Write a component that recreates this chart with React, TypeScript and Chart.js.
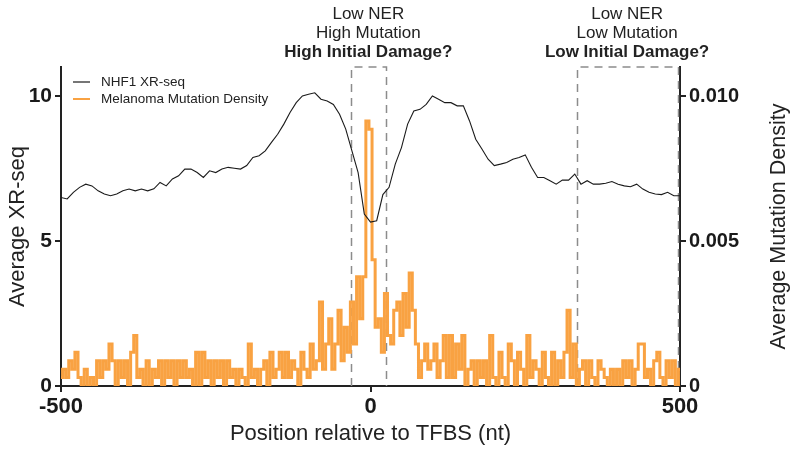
import React, { useEffect, useRef } from 'react';
import { Chart, registerables } from 'chart.js';

Chart.register(...registerables);

const FONT = '"Liberation Sans", Arial, Helvetica, sans-serif';

// Positions (nt) relative to TFBS
function range(from: number, to: number, step: number): number[] {
  const out: number[] = [];
  for (let v = from; v <= to; v += step) out.push(v);
  return out;
}
const xrPositions = range(-500, 500, 10);
const mutPositions = range(-500, 500, 5);

// NHF1 XR-seq average (left axis), every 10 nt
const xrSeq = [
  6.5, 6.45, 6.68, 6.85, 6.96, 6.9, 6.73, 6.62, 6.56, 6.62,
  6.73, 6.79, 6.73, 6.79, 6.73, 6.8, 7.02, 6.9, 7.14, 7.25,
  7.48, 7.48, 7.36, 7.19, 7.42, 7.36, 7.48, 7.54, 7.51, 7.48,
  7.6, 7.88, 7.94, 8.11, 8.4, 8.68, 9.03, 9.43, 9.77, 10.0,
  10.06, 10.11, 9.89, 9.83, 9.71, 9.37, 8.86, 8.11, 7.36, 5.93,
  5.65, 5.7, 6.6, 6.85, 7.65, 8.22, 9.03, 9.48, 9.54, 9.71,
  10.0, 9.89, 9.77, 9.77, 9.66, 9.66, 9.14, 8.51, 8.17, 7.82,
  7.6, 7.65, 7.71, 7.82, 7.88, 7.97, 7.54, 7.19, 7.19, 7.08,
  6.96, 7.1, 7.1, 7.31, 6.96, 7.08, 6.96, 6.96, 6.99, 7.05,
  6.96, 6.9, 6.87, 6.96, 6.79, 6.68, 6.62, 6.6, 6.68, 6.56,
  6.56,
];

// Melanoma mutation density (right axis), every 5 nt
const mutationDensity = [
  0.00029, 0.00058, 0.00029, 0.00087, 0.00058, 0.00116, 0.00029, 0, 0.00058, 0,
  0.00029, 0, 0.00087, 0.00029, 0.00087, 0.00058, 0.00145, 0.00087, 0, 0.00087,
  0.00029, 0.00087, 0, 0.00116, 0.00174, 0.00029, 0.00058, 0, 0.00087, 0,
  0.00058, 0.00029, 0.00087, 0, 0.00087, 0.00029, 0.00087, 0, 0.00087, 0.00029,
  0.00087, 0.00029, 0.00058, 0, 0.00116, 0, 0.00116, 0.00029, 0.00087, 0,
  0.00087, 0.00029, 0.00087, 0, 0.00087, 0.00029, 0.00058, 0, 0.00058, 0.00029,
  0, 0.00145, 0.00029, 0.00058, 0, 0.00058, 0.00087, 0, 0.00116, 0.00029,
  0.00058, 0.00116, 0.00029, 0.00116, 0.00029, 0.00087, 0.00058, 0, 0.00116, 0.00058,
  0.00029, 0.00145, 0.00058, 0.00087, 0.0029, 0.00058, 0.00145, 0.00232, 0.00058, 0.00145,
  0.00261, 0.00087, 0.00203, 0.00116, 0.0029, 0.00145, 0.00377, 0.00232, 0.00377, 0.00914,
  0.00885, 0.00435, 0.00203, 0.00232, 0.00116, 0.00319, 0.00174, 0.00145, 0.00261, 0.0029,
  0.00174, 0.00319, 0.00203, 0.0039, 0.00261, 0.00145, 0.00029, 0.00087, 0.00145, 0.00058,
  0.00087, 0.00145, 0.00029, 0.00087, 0.00174, 0.00029, 0.00174, 0.00029, 0.00145, 0.00058,
  0.00174, 0, 0.00058, 0.00087, 0, 0.00087, 0.00029, 0.00087, 0, 0.00174,
  0.00029, 0, 0.00116, 0.00029, 0, 0.00145, 0.00087, 0, 0.00116, 0.00058,
  0, 0.00174, 0.00029, 0.00087, 0.00058, 0, 0.00116, 0.00029, 0, 0.00116,
  0, 0.00087, 0.00029, 0.00116, 0.00261, 0.00029, 0.00145, 0, 0.00058, 0.00087,
  0, 0.00087, 0.00029, 0, 0.00087, 0.00058, 0.00029, 0, 0.00058, 0,
  0.00058, 0, 0.00087, 0.00029, 0.00087, 0, 0.00058, 0.00145, 0.00145, 0.00029,
  0.00058, 0, 0.00087, 0.00116, 0.00029, 0, 0.00087, 0.00029, 0.00087, 0,
  0.00058,
];

const xTicks = [-500, 0, 500];
const yTicks = [0, 5, 10];
const y1Ticks = [0, 0.005, 0.01];

const seriesLabels = ['NHF1 XR-seq', 'Melanoma Mutation Density'];
const seriesColors = ['#1a1a1a', 'rgb(249,162,66)'];

// Highlighted regions with their annotations
const regionStarts = [-32, 333];
const regionEnds = [25, 496];
const regionLines = [
  ['Low NER', 'High Mutation', 'High Initial Damage?'],
  ['Low NER', 'Low Mutation', 'Low Initial Damage?'],
];

const overlayPlugin = {
  id: 'overlay',
  beforeDatasetsDraw(chart: any) {
    const { ctx, chartArea, scales } = chart;
    ctx.save();
    ctx.strokeStyle = '#8c8c8c';
    ctx.lineWidth = 1.5;
    ctx.setLineDash([8, 6]);
    for (let i = 0; i < regionStarts.length; i++) {
      const l = Math.round(scales.x.getPixelForValue(regionStarts[i])) + 0.5;
      const r = Math.round(scales.x.getPixelForValue(regionEnds[i])) + 0.5;
      ctx.beginPath();
      ctx.moveTo(l, chartArea.bottom);
      ctx.lineTo(l, chartArea.top);
      ctx.lineTo(r, chartArea.top);
      ctx.lineTo(r, chartArea.bottom);
      ctx.stroke();
    }
    ctx.restore();
  },
  afterDraw(chart: any) {
    const { ctx, chartArea, scales } = chart;
    ctx.save();
    // region annotations
    ctx.fillStyle = '#222';
    ctx.textAlign = 'center';
    ctx.textBaseline = 'middle';
    const offsets = [53, 34, 15];
    for (let i = 0; i < regionStarts.length; i++) {
      const cx = (scales.x.getPixelForValue(regionStarts[i]) + scales.x.getPixelForValue(regionEnds[i])) / 2;
      regionLines[i].forEach((t, j) => {
        ctx.font = (j === 2 ? 'bold ' : '') + '17px ' + FONT;
        ctx.fillText(t, cx, chartArea.top - offsets[j]);
      });
    }
    // legend
    ctx.textAlign = 'left';
    ctx.font = '13.5px ' + FONT;
    seriesLabels.forEach((lab, i) => {
      const y = chartArea.top + 15 + i * 17;
      ctx.strokeStyle = seriesColors[i];
      ctx.lineWidth = i === 0 ? 1.2 : 2;
      ctx.beginPath();
      ctx.moveTo(chartArea.left + 12, y);
      ctx.lineTo(chartArea.left + 29, y);
      ctx.stroke();
      ctx.fillStyle = '#222';
      ctx.fillText(lab, chartArea.left + 40, y);
    });
    // right axis title (reads bottom to top)
    ctx.translate(chartArea.right + 99, (chartArea.top + chartArea.bottom) / 2);
    ctx.rotate(-Math.PI / 2);
    ctx.textAlign = 'center';
    ctx.font = '21.5px ' + FONT;
    ctx.fillStyle = '#222';
    ctx.fillText('Average Mutation Density', 0, 0);
    ctx.restore();
  },
};

export default function App() {
  const ref = useRef<HTMLCanvasElement | null>(null);
  useEffect(() => {
    document.body.style.margin = '0';
    const canvas = ref.current;
    if (!canvas) return;
    const gridCommon = {
      display: true,
      drawOnChartArea: false,
      drawTicks: true,
      tickLength: 6,
      color: '#222',
      lineWidth: 2,
    };
    const chart = new Chart(canvas, {
      type: 'line',
      data: {
        datasets: [
          {
            label: seriesLabels[0],
            data: xrPositions.map((x, i) => ({ x, y: xrSeq[i] })),
            borderColor: seriesColors[0],
            borderWidth: 1.1,
            pointRadius: 0,
            tension: 0,
            yAxisID: 'y',
          },
          {
            label: seriesLabels[1],
            data: mutPositions.map((x, i) => ({ x, y: mutationDensity[i] })),
            borderColor: seriesColors[1],
            borderWidth: 3,
            pointRadius: 0,
            stepped: 'middle',
            yAxisID: 'y1',
          },
        ],
      },
      options: {
        animation: false,
        responsive: true,
        maintainAspectRatio: false,
        layout: { padding: { top: 67, left: 0, right: 0, bottom: 0 } },
        plugins: { legend: { display: false }, tooltip: { enabled: false } },
        scales: {
          x: {
            type: 'linear',
            min: -500,
            max: 500,
            afterBuildTicks: (s: any) => { s.ticks = xTicks.map((v) => ({ value: v })); },
            afterFit: (s: any) => { s.height = 67; },
            grid: gridCommon,
            border: { display: true, color: '#222', width: 2 },
            ticks: {
              color: '#1a1a1a',
              padding: 2,
              maxRotation: 0,
              font: { family: FONT, size: 22, weight: 'bold' },
              callback: (v: any) => String(v),
            },
            title: {
              display: true,
              text: 'Position relative to TFBS (nt)',
              color: '#222',
              padding: { top: 0, bottom: 6 },
              font: { family: FONT, size: 22 },
            },
          },
          y: {
            type: 'linear',
            position: 'left',
            min: 0,
            max: 11,
            afterBuildTicks: (s: any) => { s.ticks = yTicks.map((v) => ({ value: v })); },
            afterFit: (s: any) => { s.width = 61; },
            grid: gridCommon,
            border: { display: true, color: '#222', width: 2 },
            ticks: {
              color: '#1a1a1a',
              padding: 3,
              font: { family: FONT, size: 21, weight: 'bold' },
              callback: (v: any) => String(v),
            },
            title: {
              display: true,
              text: 'Average XR-seq',
              color: '#222',
              padding: { top: 5, bottom: 0 },
              font: { family: FONT, size: 22 },
            },
          },
          y1: {
            type: 'linear',
            position: 'right',
            min: 0,
            max: 0.011,
            afterBuildTicks: (s: any) => { s.ticks = y1Ticks.map((v) => ({ value: v })); },
            afterFit: (s: any) => { s.width = 120; },
            grid: gridCommon,
            border: { display: true, color: '#222', width: 2 },
            ticks: {
              color: '#1a1a1a',
              padding: 3,
              font: { family: FONT, size: 20, weight: 'bold' },
              callback: (v: any) => (v === 0 ? '0' : Number(v).toFixed(3)),
            },
          },
        },
      },
      plugins: [overlayPlugin],
    } as any);
    return () => chart.destroy();
  }, []);
  return (
    <div style={{ position: 'relative', width: 800, height: 453 }}>
      <canvas ref={ref} />
    </div>
  );
}
